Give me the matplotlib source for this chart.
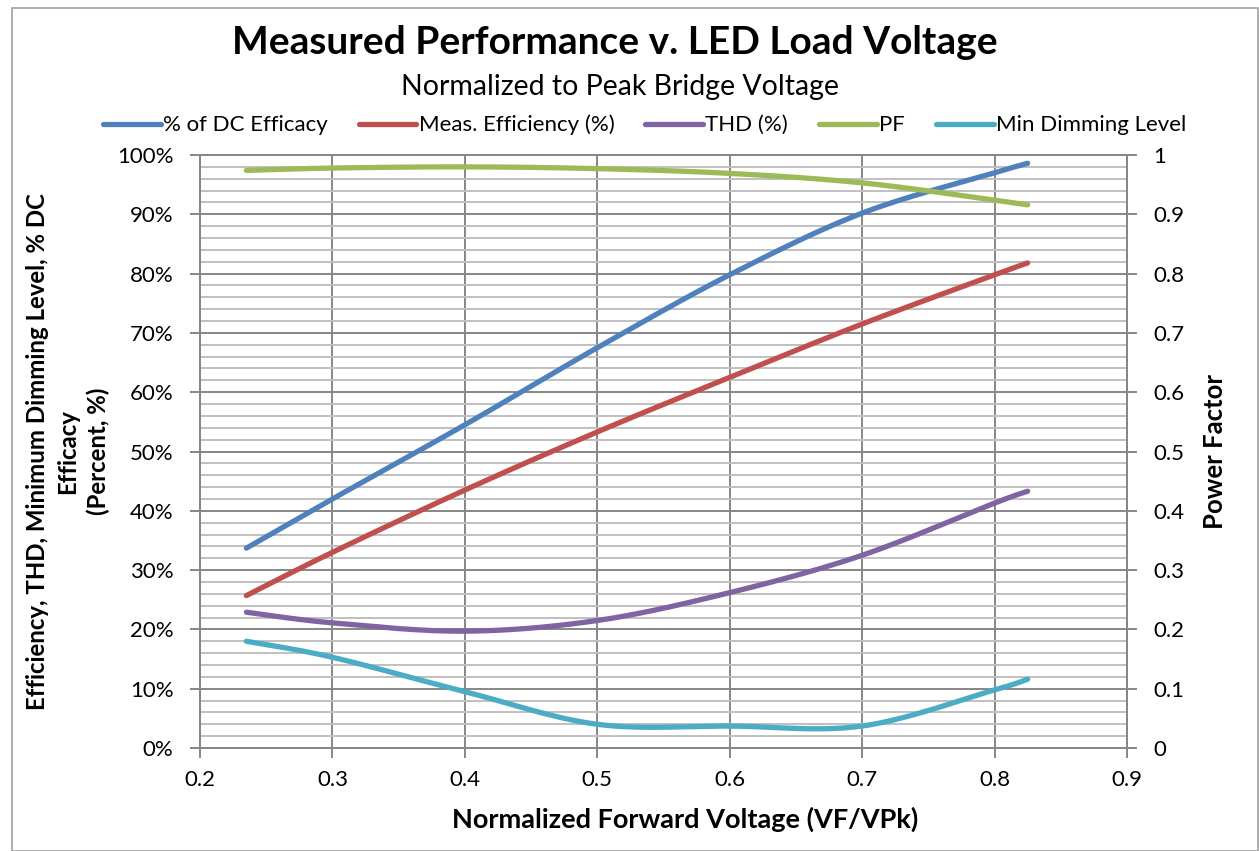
import numpy as np
import matplotlib
matplotlib.use("Agg")
import matplotlib.pyplot as plt
from matplotlib.patches import Rectangle
from matplotlib.ticker import MultipleLocator, FuncFormatter

plt.rcParams['font.family'] = ['Lato', 'DejaVu Sans']

# ---- data ----
x_vals = [0.235, 0.3, 0.4, 0.5, 0.6, 0.7, 0.8, 0.825]
dc_efficacy = [33.7, 42.0, 54.5, 67.5, 79.8, 90.2, 97.0, 98.6]
meas_eff = [25.7, 33.0, 43.5, 53.3, 62.5, 71.5, 79.8, 81.8]
thd = [22.9, 21.1, 19.7, 21.5, 26.2, 32.5, 41.3, 43.3]
min_dim = [18.0, 15.3, 9.5, 4.0, 3.7, 3.7, 9.8, 11.6]
pf = [0.974, 0.978, 0.980, 0.977, 0.969, 0.953, 0.924, 0.916]

series_names = ['% of DC Efficacy', 'Meas. Efficiency (%)', 'THD (%)', 'PF', 'Min Dimming Level']
colors = ['#4F81BD', '#C0504D', '#8064A2', '#9BBB59', '#4BACC6']


def smooth(xs, ys, n=30):
    """Excel-like Bezier smoothing through the given points."""
    xs = np.asarray(xs, float)
    ys = np.asarray(ys, float)
    P = np.column_stack([xs, ys])
    out = []
    m = len(P)
    for i in range(m - 1):
        p0 = P[i - 1] if i > 0 else P[i]
        p1 = P[i]
        p2 = P[i + 1]
        p3 = P[i + 2] if i + 2 < m else P[i + 1]
        c1 = p1 + (p2 - p0) / 6.0
        c2 = p2 - (p3 - p1) / 6.0
        t = np.linspace(0, 1, n)[:, None]
        b = ((1 - t) ** 3) * p1 + 3 * ((1 - t) ** 2) * t * c1 + 3 * (1 - t) * t ** 2 * c2 + t ** 3 * p2
        if i > 0:
            b = b[1:]
        out.append(b)
    out = np.vstack(out)
    return out[:, 0], out[:, 1]


fig = plt.figure(figsize=(12.59, 8.51), dpi=100)
fig.patches.append(Rectangle((12 / 1259, 0.0), 1 - 12 / 1259 - 0.0005, 1 - 8 / 851,
                             transform=fig.transFigure, fill=False,
                             edgecolor='#A0A0A0', linewidth=1.2))

ax = fig.add_axes([200 / 1259, 1 - 748 / 851, (1127 - 200) / 1259, (748 - 155) / 851])
ax2 = ax.twinx()

ax.set_xlim(0.2, 0.9)
ax.set_ylim(0, 100)
ax2.set_ylim(0, 1)

ax.xaxis.set_major_locator(MultipleLocator(0.1))
ax.yaxis.set_major_locator(MultipleLocator(10))
ax.yaxis.set_minor_locator(MultipleLocator(2))
ax2.yaxis.set_major_locator(MultipleLocator(0.1))
ax.xaxis.set_major_formatter(FuncFormatter(lambda v, p: f"{v:.1f}"))
ax.yaxis.set_major_formatter(FuncFormatter(lambda v, p: f"{int(round(v))}%"))
ax2.yaxis.set_major_formatter(FuncFormatter(lambda v, p: "0" if abs(v) < 1e-9 else ("1" if abs(v - 1) < 1e-9 else f"{v:.1f}")))

ax.grid(which='minor', axis='y', color='#C0C0C0', linewidth=1.4)
ax.grid(which='major', axis='both', color='#878787', linewidth=1.4)
ax.set_axisbelow(True)

for a in (ax, ax2):
    for s in a.spines.values():
        s.set_color('#878787')
        s.set_linewidth(1.4)
ax.tick_params(axis='y', which='major', direction='out', length=7, width=1.4, color='#878787', labelsize=16, pad=12)
ax.tick_params(axis='x', which='major', direction='out', length=7, width=1.4, color='#878787', labelsize=16, pad=9)
ax.tick_params(which='minor', length=0)
ax2.tick_params(which='major', direction='out', length=7, width=1.4, color='#878787', labelsize=16, pad=12)

lw = 3.8
handles = []
for vals, name, col in [(dc_efficacy, series_names[0], colors[0]),
                        (meas_eff, series_names[1], colors[1]),
                        (thd, series_names[2], colors[2])]:
    sx, sy = smooth(x_vals, vals)
    h, = ax.plot(sx, sy, color=col, lw=lw, solid_capstyle='round', label=name)
    handles.append(h)
sx, sy = smooth(x_vals, pf)
hpf, = ax2.plot(sx, sy, color=colors[3], lw=lw, solid_capstyle='round', label=series_names[3])
sx, sy = smooth(x_vals, min_dim)
hmd, = ax2.plot(sx, np.asarray(sy) / 100.0, color=colors[4], lw=lw, solid_capstyle='round', label=series_names[4])
handles += [hpf, hmd]

ax.set_xlabel('Normalized Forward Voltage (VF/VPk)', fontsize=19.5, fontweight='bold')
ax.xaxis.set_label_coords(0.523, -0.121)
ax.xaxis.label.set_va('center')
ax.set_ylabel('Efficiency, THD, Minimum Dimming Level, % DC\nEfficacy\n(Percent, %)',
              fontsize=17.3, fontweight='bold', labelpad=5, linespacing=1.38)
ax2.set_ylabel('Power Factor', fontsize=18.5, fontweight='bold', labelpad=13)

fig.text(0.488, 1 - 42 / 851, 'Measured Performance v. LED Load Voltage', ha='center', va='center',
         fontsize=28, fontweight='bold')
fig.text(0.4925, 1 - 87 / 851, 'Normalized to Peak Bridge Voltage', ha='center', va='center', fontsize=20.5)

leg = fig.legend(handles=handles, labels=series_names, loc='center', bbox_to_anchor=(0.512, 1 - 125 / 851),
                 ncol=5, frameon=False, fontsize=16, handlelength=2.6, handletextpad=0.1,
                 columnspacing=1.4)

fig.savefig('out.png', dpi=100)
